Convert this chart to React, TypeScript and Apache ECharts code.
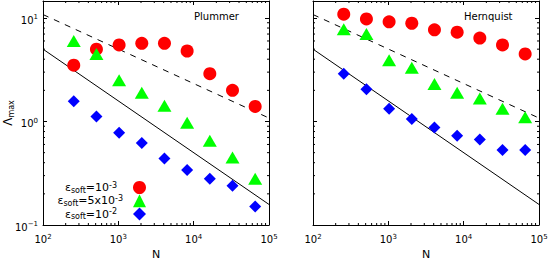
import React, { useEffect, useRef } from "react";
import * as echarts from "echarts";

const N_VALUES = [256, 512, 1024, 2048, 4096, 8192, 16384, 32768, 65536];

const PLUMMER_E3 = [3.5, 5.0, 5.5, 5.7, 5.7, 4.8, 2.9, 2.0, 1.4];
const PLUMMER_E5X3 = [6.0, 4.5, 2.5, 1.9, 1.42, 0.97, 0.65, 0.45, 0.28];
const PLUMMER_E2 = [1.57, 1.12, 0.78, 0.62, 0.44, 0.34, 0.28, 0.24, 0.151];

const HERNQUIST_E3 = [10.9, 9.8, 9.2, 8.9, 7.7, 7.3, 6.4, 5.5, 4.5];
const HERNQUIST_E5X3 = [7.8, 7.0, 3.9, 3.3, 2.3, 1.9, 1.67, 1.33, 1.1];
const HERNQUIST_E2 = [2.9, 2.05, 1.33, 1.06, 0.875, 0.73, 0.67, 0.53, 0.53];

// reference power-law lines (endpoints)
const SOLID_LINE = [[100, 5.0], [100000, 0.158]];
const DASHED_LINE = [[100, 10.8], [100000, 1.08]];

const X_MIN = 100;
const X_MAX = 100000;
const Y_MIN = 0.1;
const Y_MAX = 14.6;

const MINOR_X = [200, 300, 400, 500, 600, 700, 800, 900, 2000, 3000, 4000, 5000, 6000, 7000, 8000, 9000, 20000, 30000, 40000, 50000, 60000, 70000, 80000, 90000];
const MINOR_Y = [0.2, 0.3, 0.4, 0.5, 0.6, 0.7, 0.8, 0.9, 2, 3, 4, 5, 6, 7, 8, 9];

const PANEL_TITLES = ["Plummer", "Hernquist"];
const LEGEND_NAMES = ["e3", "e5x3", "e2"];
const LEGEND_LABELS: Record<string, string> = {
  e3: "{e|ε}{s|soft}{e|=10}{p|-3}{g|}",
  e5x3: "{e|ε}{s|soft}{e|=5x10}{p|-3}{h|}",
  e2: "{e|ε}{s|soft}{e|=10}{p|-2}{g|}",
};

const FONT = "DejaVu Sans";
const RED = "#ff0000";
const GREEN = "#00ff00";
const BLUE = "#0000ff";

const supRich = {
  b: { fontSize: 10, fontFamily: FONT, color: "#000", lineHeight: 13, verticalAlign: "middle" },
  p: { fontSize: 7, fontFamily: FONT, color: "#000", verticalAlign: "top" },
};

function logLabel(v: number) {
  const e = Math.log10(v);
  if (Math.abs(e - Math.round(e)) > 1e-6) return "";
  const r = Math.round(e);
  return `{b|10}{p|${r < 0 ? "−" + Math.abs(r) : r}}`;
}

export default function App() {
  const ref = useRef<HTMLDivElement>(null);
  useEffect(() => {
    if (!ref.current) return;
    document.body.style.margin = "0";
    document.body.style.overflow = "hidden";
    const chart = echarts.init(ref.current, null, { renderer: "svg" });

    const grids = [
      { left: 43, top: 1, width: 226, height: 224, containLabel: false, outerBoundsMode: "none" },
      { left: 313, top: 1, width: 226, height: 224, containLabel: false, outerBoundsMode: "none" },
    ];

    const xAxes: any[] = [];
    const yAxes: any[] = [];
    const tickStyle = { show: true, inside: true, length: 4, lineStyle: { color: "#000", width: 1 } };
    const lineStyle = { show: true, lineStyle: { color: "#000", width: 1 } };
    for (let g = 0; g < 2; g++) {
      xAxes.push({
        type: "log", gridIndex: g, min: X_MIN, max: X_MAX, logBase: 10, position: "bottom",
        axisLine: lineStyle, axisTick: tickStyle, splitLine: { show: false },
        axisLabel: { show: true, margin: 8, formatter: logLabel, rich: supRich, showMinLabel: true, showMaxLabel: true, hideOverlap: false },
        name: "N", nameLocation: "middle", nameGap: 19,
        nameTextStyle: { fontFamily: FONT, fontSize: 11, color: "#000" },
      });
      xAxes.push({
        type: "log", gridIndex: g, min: X_MIN, max: X_MAX, logBase: 10, position: "top",
        axisLine: lineStyle, axisTick: tickStyle, splitLine: { show: false }, axisLabel: { show: false },
      });
      yAxes.push({
        type: "log", gridIndex: g, min: Y_MIN, max: Y_MAX, logBase: 10, position: "left",
        axisLine: lineStyle, axisTick: tickStyle, splitLine: { show: false },
        axisLabel: { show: g === 0, margin: 5, formatter: logLabel, rich: supRich, padding: [4, 0, 0, 0] },
      });
      yAxes.push({
        type: "log", gridIndex: g, min: Y_MIN, max: Y_MAX, logBase: 10, position: "right",
        axisLine: lineStyle, axisTick: tickStyle, splitLine: { show: false }, axisLabel: { show: false },
      });
    }

    const minorData: number[][] = [
      ...MINOR_X.map((v) => [v, 1, 0]),
      ...MINOR_Y.map((v) => [1000, v, 1]),
    ];

    const panels = [
      [PLUMMER_E3, PLUMMER_E5X3, PLUMMER_E2],
      [HERNQUIST_E3, HERNQUIST_E5X3, HERNQUIST_E2],
    ];
    const symbols = [
      { symbol: "circle", size: 13, color: RED },
      { symbol: "triangle", size: [14, 12], color: GREEN },
      { symbol: "diamond", size: 12, color: BLUE },
    ];

    const series: any[] = [];
    for (let g = 0; g < 2; g++) {
      const xi = g * 2;
      const yi = g * 2;
      series.push({
        type: "custom", xAxisIndex: xi, yAxisIndex: yi, silent: true, z: 1,
        data: minorData,
        renderItem: (_p: any, api: any) => {
          const kind = api.value(2);
          const st = { stroke: "#000", lineWidth: 1 };
          if (kind === 0) {
            const v = api.value(0);
            const b = api.coord([v, Y_MIN]);
            const t = api.coord([v, Y_MAX]);
            return {
              type: "group",
              children: [
                { type: "line", shape: { x1: b[0], y1: b[1], x2: b[0], y2: b[1] - 2 }, style: st },
                { type: "line", shape: { x1: t[0], y1: t[1], x2: t[0], y2: t[1] + 2 }, style: st },
              ],
            };
          }
          const v = api.value(1);
          const l = api.coord([X_MIN, v]);
          const r = api.coord([X_MAX, v]);
          return {
            type: "group",
            children: [
              { type: "line", shape: { x1: l[0], y1: l[1], x2: l[0] + 2, y2: l[1] }, style: st },
              { type: "line", shape: { x1: r[0], y1: r[1], x2: r[0] - 2, y2: r[1] }, style: st },
            ],
          };
        },
      });
      series.push({
        type: "line", xAxisIndex: xi, yAxisIndex: yi, data: SOLID_LINE, symbol: "none", silent: true, z: 2,
        lineStyle: { color: "#000", width: 1 },
      });
      series.push({
        type: "line", xAxisIndex: xi, yAxisIndex: yi, data: DASHED_LINE, symbol: "none", silent: true, z: 2,
        lineStyle: { color: "#000", width: 1, type: [6, 6] },
      });
      panels[g].forEach((vals, k) => {
        series.push({
          type: "scatter", name: LEGEND_NAMES[k], xAxisIndex: xi, yAxisIndex: yi, z: 3,
          symbol: symbols[k].symbol, symbolSize: symbols[k].size,
          itemStyle: { color: symbols[k].color, opacity: 1 },
          data: N_VALUES.map((n, i) => [n, vals[i]]),
        });
      });
    }

    chart.setOption({
      animation: false,
      backgroundColor: "#fff",
      grid: grids,
      xAxis: xAxes,
      yAxis: yAxes,
      legend: {
        data: LEGEND_NAMES,
        orient: "vertical",
        align: "right",
        right: 402,
        top: 181,
        itemWidth: 13,
        itemHeight: 13,
        itemGap: 0.3,
        padding: 0,
        selectedMode: false,
        formatter: (name: string) => LEGEND_LABELS[name],
        textStyle: {
          rich: {
            e: { fontSize: 11, fontFamily: FONT, color: "#000", lineHeight: 13, verticalAlign: "middle" },
            s: { fontSize: 8, fontFamily: FONT, color: "#000", verticalAlign: "bottom" },
            p: { fontSize: 8, fontFamily: FONT, color: "#000", verticalAlign: "top" },
            g: { width: 11 },
            h: { width: 5 },
          },
        },
      },
      graphic: [
        ...PANEL_TITLES.map((t, i) => ({
          type: "text",
          left: i === 0 ? 194 : 464,
          top: 11,
          style: { text: t, font: `10px "${FONT}"`, fill: "#000" },
        })),
        {
          type: "text",
          x: 8,
          y: 113,
          rotation: Math.PI / 2,
          style: {
            text: "{l|Λ}{m|max}",
            align: "center",
            verticalAlign: "middle",
            rich: {
              l: { fontSize: 12, fontFamily: FONT, fill: "#000", lineHeight: 15, verticalAlign: "middle" },
              m: { fontSize: 8, fontFamily: FONT, fill: "#000", verticalAlign: "bottom" },
            },
          },
        },
      ],
      series,
    });
    return () => chart.dispose();
  }, []);
  return <div ref={ref} style={{ position: "absolute", left: 0, top: 0, width: 548, height: 262 }} />;
}
